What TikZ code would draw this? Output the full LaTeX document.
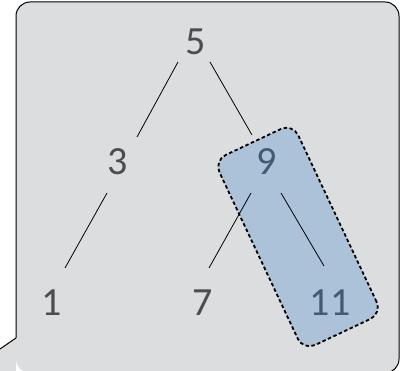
\documentclass[tikz,border=0pt]{standalone}
\usepackage{fontspec}
\setmainfont{Carlito}
\definecolor{bg}{HTML}{DCDDDF}
\definecolor{grpfill}{HTML}{ACC2D9}
\definecolor{txt}{HTML}{4D4D4D}
\definecolor{txtb}{HTML}{415A75}
\tikzset{
  num/.style={text=txt, font=\fontsize{40}{40}\selectfont, inner sep=0pt, anchor=center},
  numb/.style={num, text=txtb},
  edge/.style={draw=black, line width=0.8pt},
  grp/.style={draw=black, line width=1.8pt, dash pattern=on 3.5pt off 2.5pt, fill=grpfill,
    rounded corners=13pt, minimum width=210pt, minimum height=87pt, inner sep=0pt},
}
\begin{document}
\begin{tikzpicture}[x=1pt,y=-1pt]
\useasboundingbox (0,0) rectangle (402,371);
\clip (0,0) rectangle (402,371);
% background callout
\fill[bg, rounded corners=14pt] (16,2) rectangle (399,373);
\fill[bg] (0,349) -- (16,338) -- (16,380) -- (0,380) -- cycle;
\draw[black, line width=1pt, rounded corners=14pt] (16,338) -- (16,2) -- (399,2) -- (399,373) -- (380,373);
\draw[black, line width=1pt] (0,349) -- (16,338);
% group
\node[grp, rotate=-64.8] (g) at (298,237) {};
% numbers
\node[num] (n5) at (196,42) {5};
\node[num] (n3) at (118,162) {3};
\node[numb] (n9) at (267,162) {9};
\node[num] (n1) at (52,303) {1};
\node[num] (n7) at (203,303) {7};
\node[numb] (n11) at (330,303) {11};
% edges
\coordinate (a1) at (178,62); \coordinate (a2) at (137,137);
\coordinate (b1) at (210,62); \coordinate (b2) at (252,135);
\coordinate (c1) at (107,193); \coordinate (c2) at (65,268);
\coordinate (d1) at (251,193); \coordinate (d2) at (209,268);
\coordinate (e1) at (281,193); \coordinate (e2) at (324,266);
\draw[edge] (a1) -- (a2);
\draw[edge] (b1) -- (b2);
\draw[edge] (c1) -- (c2);
\draw[edge] (d1) -- (d2);
\draw[edge] (e1) -- (e2);
\end{tikzpicture}
\end{document}
